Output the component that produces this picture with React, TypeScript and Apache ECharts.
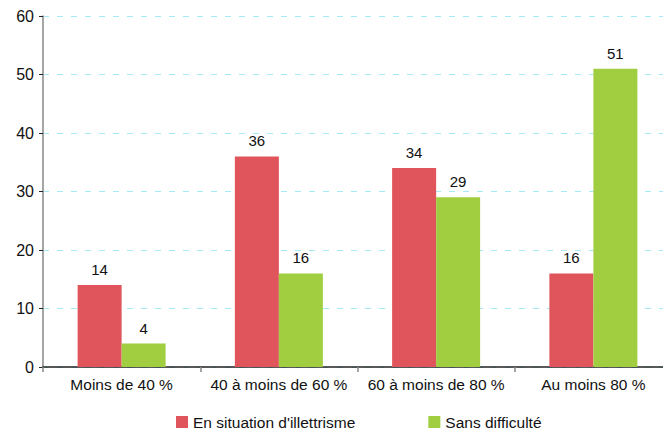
import React, { useEffect, useRef } from "react";
import * as echarts from "echarts";

const categories = ["Moins de 40 %", "40 à moins de 60 %", "60 à moins de 80 %", "Au moins 80 %"];
const illettrisme = [14, 36, 34, 16];
const sansDifficulte = [4, 16, 29, 51];
const seriesNames = ["En situation d'illettrisme", "Sans difficulté"];

export default function App() {
  const ref = useRef<HTMLDivElement>(null);
  useEffect(() => {
    const chart = echarts.init(ref.current!, null, { renderer: "svg" });
    const font = "'Liberation Sans', Arial, sans-serif";
    const label = { show: true, position: "top", distance: 8, color: "#111", fontSize: 15, fontFamily: font };
    chart.setOption({
      animation: false,
      grid: { left: 43, right: 28, top: 16, bottom: 63 },
      legend: {
        left: 176,
        bottom: 0,
        padding: 0,
        icon: "rect",
        itemWidth: 12,
        itemHeight: 12,
        itemGap: 73,
        textStyle: { fontSize: 15.5, fontFamily: font, color: "#111" },
        data: seriesNames,
      },
      xAxis: {
        type: "category",
        data: categories,
        axisLine: { lineStyle: { color: "#222", width: 1.5 } },
        axisTick: { show: true, alignWithLabel: false, length: 5, lineStyle: { color: "#888", width: 1.5 } },
        axisLabel: { interval: 0, fontSize: 15.5, fontFamily: font, color: "#111", margin: 9 },
      },
      yAxis: {
        type: "value",
        min: 0,
        max: 60,
        interval: 10,
        axisLine: { show: true, lineStyle: { color: "#888", width: 1.5 } },
        axisTick: { show: true, length: 4, lineStyle: { color: "#222" } },
        axisLabel: { fontSize: 16, fontFamily: font, color: "#111", margin: 9 },
        splitLine: { lineStyle: { color: "#a6e9f9", type: [6, 8], width: 1.2 } },
      },
      series: [
        {
          name: seriesNames[0],
          type: "bar",
          data: illettrisme,
          barWidth: 44,
          barGap: "0%",
          itemStyle: { color: "#e0555c" },
          label,
        },
        {
          name: seriesNames[1],
          type: "bar",
          data: sansDifficulte,
          barWidth: 44,
          barGap: "0%",
          itemStyle: { color: "#a0ce40" },
          label,
        },
      ],
    });
    return () => chart.dispose();
  }, []);
  return (
    <div style={{ position: "absolute", left: 0, top: 0, width: 663, height: 430, overflow: "hidden", background: "#fff" }}>
      <div ref={ref} style={{ width: 700, height: 430 }} />
    </div>
  );
}
